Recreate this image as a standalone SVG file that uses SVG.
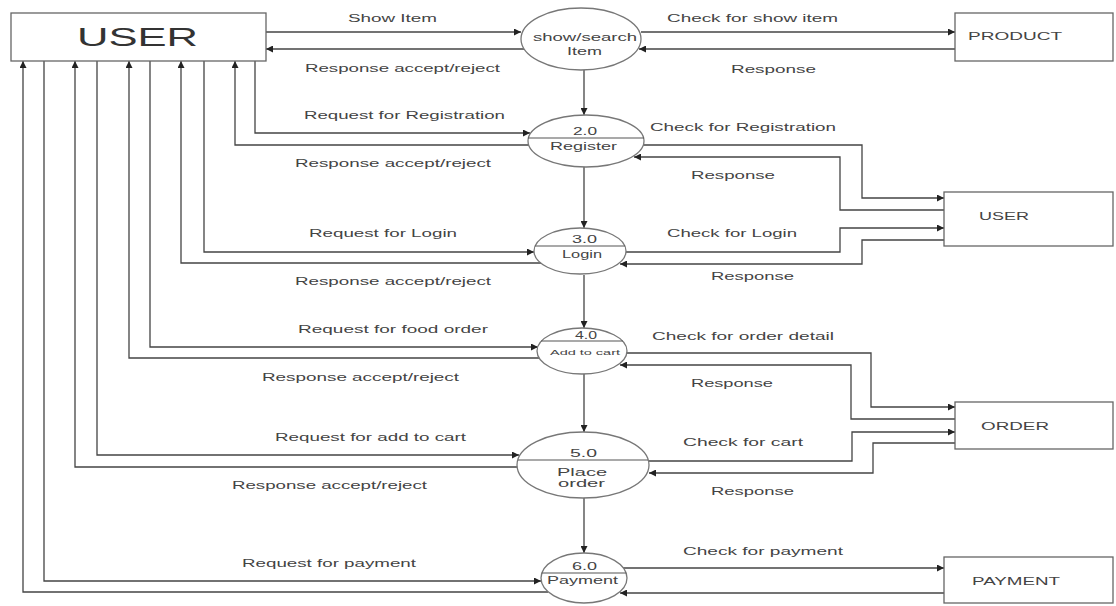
<svg xmlns="http://www.w3.org/2000/svg" width="1116" height="606" viewBox="0 0 1116 606">
<style>
  .box { fill: #fff; stroke: #666; stroke-width: 1.3; }
  .proc { fill: #fff; stroke: #777; stroke-width: 1.3; }
  .div { stroke: #555; stroke-width: 1.1; }
  .flow { fill: none; stroke: #444; stroke-width: 1.3; }
  .lbl { font-family: "Liberation Sans", Arial, sans-serif; font-size: 11px; fill: #444; }
  .plbl { font-family: "Liberation Sans", Arial, sans-serif; font-size: 10px; fill: #444; }
  .big { font-family: "Liberation Sans", Arial, sans-serif; font-size: 25px; fill: #333; }
</style>
<defs>
  <marker id="arr" viewBox="0 0 10 10" refX="10" refY="5" markerWidth="7" markerHeight="7" markerUnits="userSpaceOnUse" orient="auto">
    <path d="M0,0 L10,5 L0,10 z" fill="#222"/>
  </marker>
</defs>
<rect width="1116" height="606" fill="#fff"/>

<g id="connectors">
  <path class="flow" d="M266,32 H521" marker-end="url(#arr)"/>
  <path class="flow" d="M524,49 H266" marker-end="url(#arr)"/>
  <path class="flow" d="M641,32 H955" marker-end="url(#arr)"/>
  <path class="flow" d="M955,49 H639" marker-end="url(#arr)"/>
  <path class="flow" d="M584,70 V115" marker-end="url(#arr)"/>

  <path class="flow" d="M255,61 V133 H530" marker-end="url(#arr)"/>
  <path class="flow" d="M529,145 H235 V61" marker-end="url(#arr)"/>
  <path class="flow" d="M643,145 H862 V198 H944" marker-end="url(#arr)"/>
  <path class="flow" d="M944,210 H840 V157 H634" marker-end="url(#arr)"/>
  <path class="flow" d="M584,167 V228" marker-end="url(#arr)"/>

  <path class="flow" d="M204,61 V252 H534" marker-end="url(#arr)"/>
  <path class="flow" d="M541,263 H181 V61" marker-end="url(#arr)"/>
  <path class="flow" d="M626,252 H840 V228 H944" marker-end="url(#arr)"/>
  <path class="flow" d="M944,240 H862 V264 H620" marker-end="url(#arr)"/>
  <path class="flow" d="M584,275 V328" marker-end="url(#arr)"/>

  <path class="flow" d="M150,61 V347 H538" marker-end="url(#arr)"/>
  <path class="flow" d="M539,358 H129 V61" marker-end="url(#arr)"/>
  <path class="flow" d="M627,353 H871 V407 H955" marker-end="url(#arr)"/>
  <path class="flow" d="M955,419 H851 V365 H620" marker-end="url(#arr)"/>
  <path class="flow" d="M584,374 V432" marker-end="url(#arr)"/>

  <path class="flow" d="M97,61 V455 H519" marker-end="url(#arr)"/>
  <path class="flow" d="M518,467 H75 V61" marker-end="url(#arr)"/>
  <path class="flow" d="M649,461 H852 V432 H955" marker-end="url(#arr)"/>
  <path class="flow" d="M955,443 H873 V473 H649" marker-end="url(#arr)"/>
  <path class="flow" d="M584,497 V553" marker-end="url(#arr)"/>

  <path class="flow" d="M44,61 V581 H541" marker-end="url(#arr)"/>
  <path class="flow" d="M548,592 H23 V61" marker-end="url(#arr)"/>
  <path class="flow" d="M623,568 H944" marker-end="url(#arr)"/>
  <path class="flow" d="M944,593 H620" marker-end="url(#arr)"/>
</g>

<g id="labels">
  <text class="lbl" x="348" y="22" textLength="89" lengthAdjust="spacingAndGlyphs">Show Item</text>
  <text class="lbl" x="305" y="72" textLength="195" lengthAdjust="spacingAndGlyphs">Response accept/reject</text>
  <text class="lbl" x="304" y="119" textLength="201" lengthAdjust="spacingAndGlyphs">Request for Registration</text>
  <text class="lbl" x="295" y="167" textLength="196" lengthAdjust="spacingAndGlyphs">Response accept/reject</text>
  <text class="lbl" x="309" y="237" textLength="148" lengthAdjust="spacingAndGlyphs">Request for Login</text>
  <text class="lbl" x="295" y="285" textLength="196" lengthAdjust="spacingAndGlyphs">Response accept/reject</text>
  <text class="lbl" x="298" y="333" textLength="190" lengthAdjust="spacingAndGlyphs">Request for food order</text>
  <text class="lbl" x="262" y="381" textLength="197" lengthAdjust="spacingAndGlyphs">Response accept/reject</text>
  <text class="lbl" x="275" y="441" textLength="191" lengthAdjust="spacingAndGlyphs">Request for add to cart</text>
  <text class="lbl" x="232" y="489" textLength="195" lengthAdjust="spacingAndGlyphs">Response accept/reject</text>
  <text class="lbl" x="242" y="567" textLength="174" lengthAdjust="spacingAndGlyphs">Request for payment</text>

  <text class="lbl" x="667" y="22" textLength="171" lengthAdjust="spacingAndGlyphs">Check for show item</text>
  <text class="lbl" x="731" y="73" textLength="85" lengthAdjust="spacingAndGlyphs">Response</text>
  <text class="lbl" x="650" y="131" textLength="186" lengthAdjust="spacingAndGlyphs">Check for Registration</text>
  <text class="lbl" x="691" y="179" textLength="84" lengthAdjust="spacingAndGlyphs">Response</text>
  <text class="lbl" x="667" y="237" textLength="130" lengthAdjust="spacingAndGlyphs">Check for Login</text>
  <text class="lbl" x="711" y="280" textLength="83" lengthAdjust="spacingAndGlyphs">Response</text>
  <text class="lbl" x="652" y="340" textLength="182" lengthAdjust="spacingAndGlyphs">Check for order detail</text>
  <text class="lbl" x="691" y="387" textLength="82" lengthAdjust="spacingAndGlyphs">Response</text>
  <text class="lbl" x="683" y="446" textLength="120" lengthAdjust="spacingAndGlyphs">Check for cart</text>
  <text class="lbl" x="711" y="495" textLength="83" lengthAdjust="spacingAndGlyphs">Response</text>
  <text class="lbl" x="683" y="555" textLength="160" lengthAdjust="spacingAndGlyphs">Check for payment</text>
</g>

<g id="user-entity">
  <rect class="box" x="11" y="13" width="255" height="48"/>
  <text class="big" x="77" y="46" textLength="121" lengthAdjust="spacingAndGlyphs">USER</text>
</g>
<g id="product-store">
  <rect class="box" x="955" y="13" width="158" height="48"/>
  <text class="lbl" x="968" y="40" textLength="94" lengthAdjust="spacingAndGlyphs">PRODUCT</text>
</g>
<g id="user-store">
  <rect class="box" x="944" y="192" width="169" height="54"/>
  <text class="lbl" x="979" y="220" textLength="50" lengthAdjust="spacingAndGlyphs">USER</text>
</g>
<g id="order-store">
  <rect class="box" x="955" y="402" width="158" height="47"/>
  <text class="lbl" x="981" y="430" textLength="68" lengthAdjust="spacingAndGlyphs">ORDER</text>
</g>
<g id="payment-store">
  <rect class="box" x="944" y="557" width="169" height="46"/>
  <text class="lbl" x="972" y="585" textLength="88" lengthAdjust="spacingAndGlyphs">PAYMENT</text>
</g>

<g id="p1">
  <ellipse class="proc" cx="581" cy="39" rx="60" ry="31"/>
  <text class="plbl" x="533" y="41" textLength="104" lengthAdjust="spacingAndGlyphs">show/search</text>
  <text class="plbl" x="567" y="55" textLength="35" lengthAdjust="spacingAndGlyphs">Item</text>
</g>
<g id="p2">
  <ellipse class="proc" cx="586" cy="141" rx="58" ry="26"/>
  <line class="div" x1="528" y1="138" x2="644" y2="138"/>
  <text class="plbl" x="573" y="135" textLength="24" lengthAdjust="spacingAndGlyphs">2.0</text>
  <text class="plbl" x="550" y="150" textLength="67" lengthAdjust="spacingAndGlyphs">Register</text>
</g>
<g id="p3">
  <ellipse class="proc" cx="580" cy="251" rx="46" ry="23"/>
  <line class="div" x1="535" y1="246" x2="625" y2="246"/>
  <text class="plbl" x="572" y="243" textLength="25" lengthAdjust="spacingAndGlyphs">3.0</text>
  <text class="plbl" x="562" y="258" textLength="40" lengthAdjust="spacingAndGlyphs">Login</text>
</g>
<g id="p4">
  <ellipse class="proc" cx="582" cy="351" rx="45" ry="23"/>
  <line class="div" x1="541" y1="341" x2="623" y2="341"/>
  <text class="plbl" x="575" y="339" textLength="22" lengthAdjust="spacingAndGlyphs">4.0</text>
  <text class="plbl" style="font-size:8px" x="550" y="355" textLength="70" lengthAdjust="spacingAndGlyphs">Add to cart</text>
</g>
<g id="p5">
  <ellipse class="proc" cx="583" cy="465" rx="66" ry="33"/>
  <line class="div" x1="518" y1="460" x2="648" y2="460"/>
  <text class="plbl" x="570" y="457" textLength="27" lengthAdjust="spacingAndGlyphs">5.0</text>
  <text class="plbl" x="557" y="476" textLength="50" lengthAdjust="spacingAndGlyphs">Place</text>
  <text class="plbl" x="558" y="487" textLength="47" lengthAdjust="spacingAndGlyphs">order</text>
</g>
<g id="p6">
  <ellipse class="proc" cx="584" cy="578" rx="43" ry="25"/>
  <line class="div" x1="542" y1="573" x2="626" y2="573"/>
  <text class="plbl" x="572" y="570" textLength="25" lengthAdjust="spacingAndGlyphs">6.0</text>
  <text class="plbl" x="547" y="584" textLength="71" lengthAdjust="spacingAndGlyphs">Payment</text>
</g>
</svg>
